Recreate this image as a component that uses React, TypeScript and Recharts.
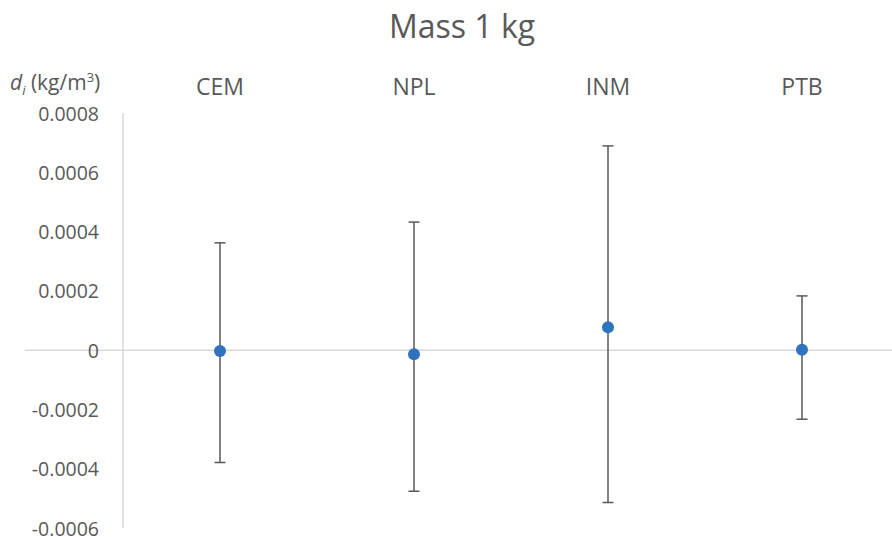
import React from 'react';
import { ComposedChart, Scatter, XAxis, YAxis, ErrorBar, ReferenceLine } from 'recharts';

const categories = ['CEM', 'NPL', 'INM', 'PTB'];
const values = [-0.000003, -0.000014, 0.000077, 0.000001];
const errPlus = [0.000365, 0.000446, 0.000612, 0.000182];
const errMinus = [0.000376, 0.000462, 0.000591, 0.000234];
const yTicks = [-0.0006, -0.0004, -0.0002, 0, 0.0002, 0.0004, 0.0006, 0.0008];

const data = categories.map((name, i) => ({
  name,
  value: values[i],
  err: [errMinus[i], errPlus[i]],
}));

const FONT = '"Open Sans", "Noto Sans", sans-serif';
const TEXT = '#595959';
const AXIS = '#d9d9d9';

const fmt = (v: number) => (v === 0 ? '0' : v.toFixed(4));

const YTick = (props: any) => {
  const { x, y, payload } = props;
  return (
    <g>
      {payload.value === 0 && (
        <line x1={x - 74} y1={y} x2={x + 24} y2={y} stroke={AXIS} strokeWidth={1.5} />
      )}
      <text x={x} y={y} textAnchor="end" dominantBaseline="central" fill={TEXT} fontSize={19.5} fontFamily={FONT}>
        {fmt(payload.value)}
      </text>
    </g>
  );
};

const XTick = (props: any) => {
  const { x, y, payload } = props;
  return (
    <text x={x} y={y - 27} textAnchor="middle" dominantBaseline="central" fill={TEXT} fontSize={23} fontFamily={FONT}>
      {payload.value}
    </text>
  );
};

const Dot = (props: any) => {
  const { cx, cy } = props;
  return <circle cx={cx} cy={cy} r={6} fill="#2e72c0" />;
};

export default function App() {
  return (
    <div style={{ position: 'absolute', left: 0, top: 0, width: 892, height: 537, overflow: 'hidden', background: '#fff' }}>
      <div
        style={{
          position: 'absolute',
          left: 0,
          width: 892,
          top: 6,
          textAlign: 'center',
          paddingLeft: 32,
          boxSizing: 'border-box',
          fontFamily: FONT,
          fontSize: 32,
          color: TEXT,
          lineHeight: '40px',
        }}
      >
        Mass 1 kg
      </div>
      <div
        style={{
          position: 'absolute',
          left: 10,
          top: 62,
          fontFamily: FONT,
          fontSize: 21,
          color: TEXT,
          lineHeight: '30px',
          whiteSpace: 'nowrap',
        }}
      >
        <i>d</i>
        <sub style={{ fontSize: 13, fontStyle: 'italic' }}>i</sub> (kg/m<sup style={{ fontSize: 13 }}>3</sup>)
      </div>
      <div style={{ position: 'absolute', left: 0, top: 0 }}>
        <ComposedChart width={900} height={537} data={data} margin={{ top: 83, right: 1, left: 0, bottom: 9 }}>
          <XAxis
            dataKey="name"
            type="category"
            orientation="top"
            height={30}
            axisLine={false}
            tickLine={false}
            tickSize={0}
            tickMargin={0}
            tick={<XTick />}
            interval={0}
            padding={{ left: 97, right: 97 }}
          />
          <YAxis
            type="number"
            domain={[-0.0006, 0.0008]}
            ticks={yTicks}
            width={123}
            axisLine={{ stroke: AXIS, strokeWidth: 1.5 }}
            tickLine={false}
            tickSize={0}
            tickMargin={24}
            tick={<YTick />}
            interval={0}
            allowDataOverflow
          />
          <ReferenceLine y={0} stroke={AXIS} strokeWidth={1.5} />
          <Scatter dataKey="value" shape={<Dot />} isAnimationActive={false}>
            <ErrorBar dataKey="err" direction="y" width={5.5} stroke="#595959" strokeWidth={1.5} isAnimationActive={false} />
          </Scatter>
        </ComposedChart>
      </div>
    </div>
  );
}
